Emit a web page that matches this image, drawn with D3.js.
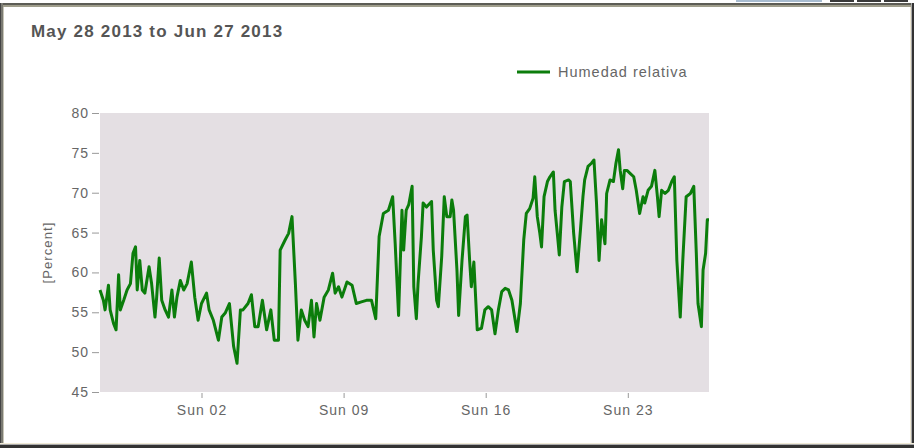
<!DOCTYPE html>
<html>
<head>
<meta charset="utf-8">
<script src="https://cdn.jsdelivr.net/npm/d3@7"></script>
<style>
  body { margin: 0; background: #fff; }
  svg { display: block; font-family: "Liberation Sans", Arial, sans-serif; }
</style>
</head>
<body>
<svg id="chart" width="914" height="448"></svg>
<script>
// hours since May 28 2013 00:00 and relative humidity
const horas = [0, 4, 6, 10, 12, 16, 19, 22, 24, 28, 32, 36, 39, 42, 44, 47, 50, 53, 58, 61,
  65, 67, 70, 73, 77, 81, 85, 88, 91, 95, 99, 103, 108, 112, 116, 120, 126, 129, 134, 140,
  144, 148, 153, 158, 162, 166, 169, 175, 179, 183, 187, 192, 197, 202, 206, 211, 213, 219, 223, 227,
  231, 234, 238, 242, 246, 250, 253, 256, 260, 265, 270, 275, 278, 282, 286, 292, 298, 303, 309, 315,
  321, 326, 330, 335, 341, 346, 349, 353, 357, 359, 362, 365, 369, 371, 374, 376, 380, 382, 386, 392,
  394, 398, 400, 404, 407, 410, 414, 416, 418, 422, 424, 428, 432, 434, 437, 439, 442, 446, 451, 455,
  459, 463, 467, 471, 475, 479, 483, 487, 493, 497, 501, 504, 508, 512, 514, 517, 520, 522, 525, 529,
  532, 536, 538, 541, 543, 546, 549, 554, 556, 560, 564, 568, 571, 573, 577, 581, 584, 587, 590, 593,
  597, 599, 603, 607, 610, 613, 615, 618, 620, 623, 627, 631, 634, 638, 642, 644, 648, 652, 656, 659,
  661, 664, 668, 672, 676, 679, 682, 686, 689, 693, 698, 702, 705, 707, 711, 713, 716, 718, 720];
const humedad = [57.8, 56.5, 55.3, 58.4, 55.3, 53.6, 52.8, 59.7, 55.3, 56.5, 57.8, 58.6, 62.4, 63.2, 57.8, 61.5, 57.8, 57.4, 60.7, 58.6,
  54.4, 56.9, 61.8, 56.5, 55.3, 54.4, 57.8, 54.4, 56.9, 59.0, 57.8, 58.6, 61.3, 56.9, 54.0, 56.1, 57.4, 55.3, 54.0, 51.5,
  54.4, 54.9, 56.1, 50.7, 48.6, 55.3, 55.3, 56.1, 57.2, 53.2, 53.2, 56.5, 52.8, 55.3, 51.5, 51.5, 62.8, 64.1, 64.9, 67.0,
  58.6, 51.5, 55.3, 54.0, 53.2, 56.5, 51.9, 56.1, 54.0, 56.9, 57.8, 59.9, 57.4, 58.2, 56.9, 58.8, 58.4, 56.1, 56.3, 56.5,
  56.5, 54.2, 64.5, 67.4, 67.8, 69.5, 63.6, 54.6, 67.8, 62.8, 67.8, 68.5, 70.8, 58.2, 54.2, 58.6, 64.5, 68.7, 68.2, 68.9,
  62.8, 56.5, 55.7, 62.0, 69.5, 67.0, 67.0, 69.1, 67.8, 60.3, 54.6, 61.5, 67.0, 67.2, 61.5, 58.2, 61.3, 52.8, 53.0, 55.3,
  55.7, 55.3, 52.3, 55.3, 57.6, 58.0, 57.8, 56.5, 52.6, 56.1, 64.1, 67.4, 68.0, 69.3, 72.0, 67.0, 64.9, 63.2, 69.5, 71.4,
  72.0, 72.6, 67.8, 64.5, 62.2, 68.2, 71.4, 71.6, 71.4, 64.9, 60.1, 65.3, 69.5, 71.6, 73.3, 73.7, 74.1, 68.7, 61.5, 66.6,
  63.6, 69.9, 71.6, 71.4, 73.7, 75.4, 72.8, 70.5, 72.8, 72.8, 72.4, 72.0, 70.3, 67.4, 69.5, 68.7, 70.3, 70.8, 72.8, 69.5,
  67.0, 70.3, 69.9, 70.3, 71.4, 72.0, 61.5, 54.4, 61.5, 69.5, 69.9, 70.8, 62.4, 56.1, 53.2, 60.3, 62.4, 66.6, 66.6];

const titulo = "May 28 2013 to Jun 27 2013";
const serie = "Humedad relativa";
const unidad = "[Percent]";
const yTicks = [45, 50, 55, 60, 65, 70, 75, 80];

const inicio = new Date(2013, 4, 28);
const fin = new Date(2013, 5, 27);
const datos = horas.map((h, i) => ({ fecha: d3.timeHour.offset(inicio, h), valor: humedad[i] }));

const svg = d3.select("#chart");
const W = 914, H = 448;
const plot = { left: 100, right: 709, top: 113, bottom: 392 };
const verde = "#0b7d0b";
const gris = "#666";

// window frame
svg.append("rect").attr("x", 0).attr("y", 3).attr("width", W).attr("height", 2).attr("fill", "#5c5c55");
svg.append("rect").attr("x", 0).attr("y", 5).attr("width", W).attr("height", 2).attr("fill", "#a09e8c");
svg.append("rect").attr("x", 0).attr("y", 3).attr("width", 1).attr("height", H).attr("fill", "#444");
svg.append("rect").attr("x", 1).attr("y", 3).attr("width", 2).attr("height", H).attr("fill", "#7a7a72");
svg.append("rect").attr("x", 3).attr("y", 7).attr("width", 1).attr("height", H).attr("fill", "#c8c6b8");
svg.append("rect").attr("x", 910).attr("y", 7).attr("width", 1).attr("height", H).attr("fill", "#efe9d6");
svg.append("rect").attr("x", 911).attr("y", 3).attr("width", 1).attr("height", H).attr("fill", "#aaa");
svg.append("rect").attr("x", 912).attr("y", 3).attr("width", 2).attr("height", H).attr("fill", "#333");
svg.append("rect").attr("x", 0).attr("y", 443).attr("width", W).attr("height", 1).attr("fill", "#efe9d6");
svg.append("rect").attr("x", 0).attr("y", 444).attr("width", W).attr("height", 1).attr("fill", "#aaa");
svg.append("rect").attr("x", 0).attr("y", 445).attr("width", W).attr("height", 3).attr("fill", "#333");
// buttons peeking above the frame
svg.append("rect").attr("x", 736).attr("y", 0).attr("width", 86).attr("height", 2).attr("fill", "#a8bcd0");
[830, 857, 884].forEach(x => svg.append("rect").attr("x", x).attr("y", 0).attr("width", 24).attr("height", 2).attr("fill", "#3a3a3a"));

svg.append("text").attr("x", 31).attr("y", 37)
  .attr("font-size", 17).attr("font-weight", "bold").attr("letter-spacing", 1.2).attr("fill", "#555")
  .text(titulo);

const x = d3.scaleTime().domain([inicio, fin]).range([plot.left, plot.right]);
const y = d3.scaleLinear().domain([45, 80]).range([plot.bottom, plot.top]);

svg.append("rect")
  .attr("x", plot.left).attr("y", plot.top)
  .attr("width", plot.right - plot.left).attr("height", plot.bottom - plot.top)
  .attr("fill", "#e4dfe3");

const yAxis = svg.append("g").attr("transform", `translate(${plot.left - 1},0)`)
  .call(d3.axisLeft(y).tickValues(yTicks).tickSize(7).tickPadding(3));
const xAxis = svg.append("g").attr("transform", `translate(0,${plot.bottom + 1})`)
  .call(d3.axisBottom(x).ticks(d3.timeSunday.every(1)).tickFormat(d3.timeFormat("%a %d")).tickSize(5).tickPadding(7));
[yAxis, xAxis].forEach(g => {
  g.select(".domain").remove();
  g.selectAll("line").attr("stroke", "#999");
  g.selectAll("text").attr("fill", gris).attr("font-size", 14).attr("letter-spacing", 1)
    .attr("font-family", "Liberation Sans, Arial, sans-serif");
});

svg.append("text")
  .attr("transform", `translate(52,${(plot.top + plot.bottom) / 2}) rotate(-90)`)
  .attr("text-anchor", "middle").attr("font-size", 13).attr("letter-spacing", 1.1).attr("fill", gris)
  .text(unidad);

const line = d3.line().x(d => x(d.fecha)).y(d => y(d.valor));
svg.append("path").datum(datos)
  .attr("d", line)
  .attr("fill", "none").attr("stroke", verde).attr("stroke-width", 3)
  .attr("stroke-linejoin", "round");

// legend
svg.append("line").attr("x1", 517).attr("x2", 550).attr("y1", 72).attr("y2", 72)
  .attr("stroke", verde).attr("stroke-width", 3);
svg.append("text").attr("x", 558).attr("y", 77)
  .attr("font-size", 14.5).attr("letter-spacing", 1).attr("fill", gris)
  .text(serie);
</script>
</body>
</html>
